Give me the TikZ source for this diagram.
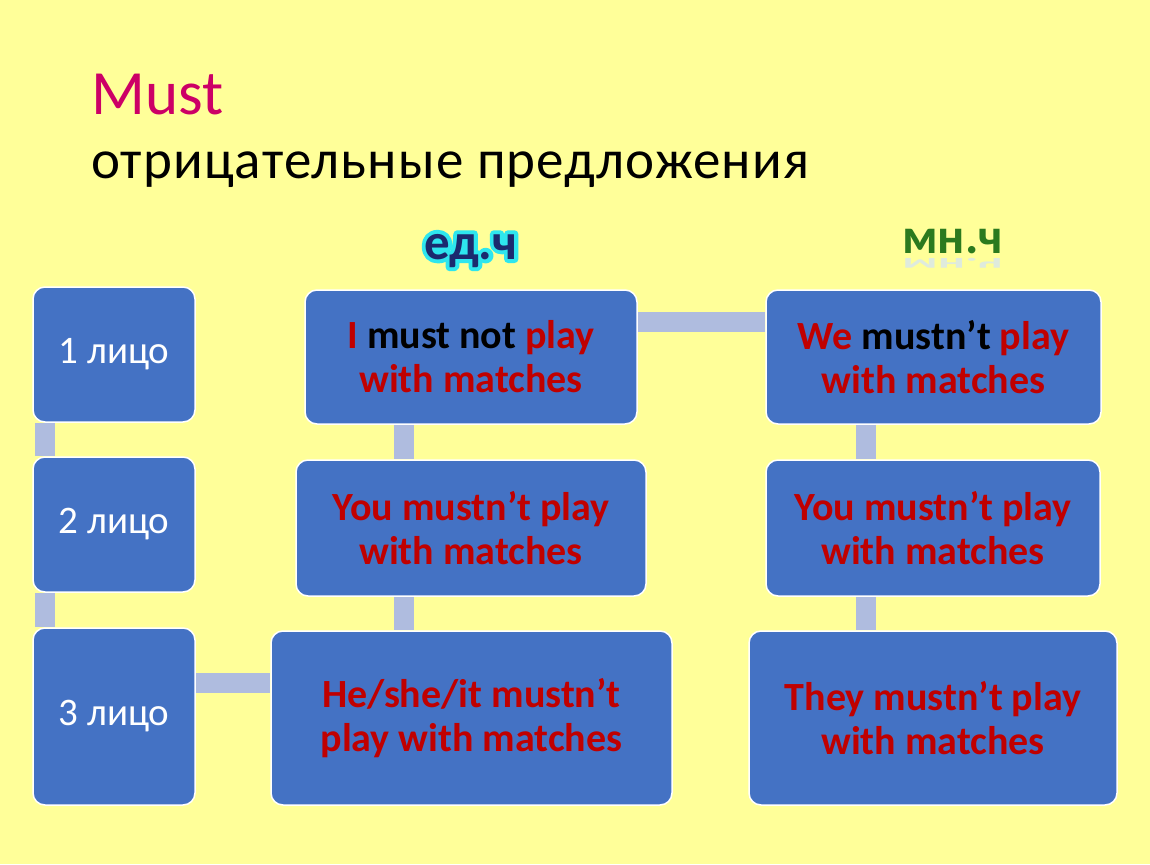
\documentclass[tikz,border=0pt]{standalone}
\usepackage{fontspec}
\setmainfont{Carlito}
\newfontfamily\subfont[LetterSpace=2]{Carlito}
\usetikzlibrary{calc}
\definecolor{bg}{HTML}{FFFF99}
\definecolor{boxblue}{HTML}{4472C4}
\definecolor{connc}{HTML}{AFBCDF}
\definecolor{redt}{HTML}{C00000}
\definecolor{magt}{HTML}{CC0066}
\definecolor{navy}{HTML}{1B2A6E}
\definecolor{glow}{HTML}{2EE6EE}
\definecolor{greent}{HTML}{2B7A1E}
\pgfdeclarelayer{bglayer}
\pgfdeclarelayer{connlayer}
\pgfsetlayers{bglayer,connlayer,main}
\tikzset{
  box/.style={draw=white, line width=1.5pt, fill=boxblue, rounded corners=12pt, inner sep=0pt, align=center},
  person/.style={box, text=white, font=\fontsize{39}{44}\selectfont},
  sent/.style={box, text=redt, font=\fontsize{40}{44}\selectfont\bfseries},
  conn/.style={connc, line width=20pt},
  label/.style={anchor=base west, inner sep=0pt},
}
\begin{document}
\begin{tikzpicture}[x=1pt,y=-1pt]
\begin{pgfonlayer}{bglayer}
\fill[bg] (0,0) rectangle (1150,864);
\end{pgfonlayer}
\useasboundingbox (0,0) rectangle (1150,864);
% titles
\node[label, text=magt, font=\fontsize{63}{70}\selectfont] (t1) at (91,115) {Must};
\node[label, text=black, font=\fontsize{55}{60}\subfont] (t2) at (91,178) {отрицательные предложения};
% ed.ch with cyan outline (stroke only) under navy text
\node[label, text=glow, font=\fontsize{51}{56}\selectfont\bfseries] (sgglow) at (424,259) {\special{pdf:code 1 Tr 8 w 1 j}ед.ч\special{pdf:code 0 Tr 1 w}};
\node[label, text=navy, font=\fontsize{51}{56}\selectfont\bfseries] (sg) at (424,259) {ед.ч};
% mn.ch with faint reflection
\node[label, text=greent!15, yscale=-0.4, font=\fontsize{50}{56}\selectfont\bfseries] (plref) at (902,258) {мн.ч};
\node[label, text=greent, font=\fontsize{50}{56}\selectfont\bfseries] (pl) at (902,253) {мн.ч};
% nodes
\node[person, minimum width=162pt, minimum height=135pt] (p1) at (114,354.5) {1 лицо};
\node[person, minimum width=162pt, minimum height=135pt] (p2) at (114,524.5) {2 лицо};
\node[person, minimum width=162pt, minimum height=177pt] (p3) at (114,716.5) {3 лицо};
\node[sent, minimum width=332pt, minimum height=134pt] (s1) at (471,357) {\textcolor{redt}{I} \textcolor{black}{must not} play\\with matches};
\node[sent, minimum width=350pt, minimum height=136pt] (s2) at (471,528) {You mustn’t play\\with matches};
\node[sent, minimum width=401pt, minimum height=174pt] (s3) at (471.5,718) {He/she/it mustn’t\\play with matches};
\node[sent, minimum width=335pt, minimum height=134pt] (q1) at (933.5,357) {We \textcolor{black}{mustn’t} play\\with matches};
\node[sent, minimum width=334pt, minimum height=136pt] (q2) at (933,528) {You mustn’t play\\with matches};
\node[sent, minimum width=368pt, minimum height=174pt] (q3) at (933,718) {They mustn’t play\\with matches};
% connectors (behind boxes)
\begin{pgfonlayer}{connlayer}
\draw[conn] ([xshift=12.5pt]p1.south west) -- ([xshift=12.5pt]p2.north west);
\draw[conn] ([xshift=12.5pt]p2.south west) -- ([xshift=12.5pt]p3.north west);
\draw[conn] ([yshift=34pt]p3.east) -- ([yshift=35.5pt]s3.west);
\draw[conn] ([xshift=-67pt]s1.south) -- ([xshift=-67pt]s2.north);
\draw[conn] ([xshift=-67pt]s2.south) -- ([xshift=-67.5pt]s3.north);
\draw[conn] ([yshift=35pt]s1.east) -- ([yshift=35pt]q1.west);
\draw[conn] ([xshift=-67.5pt]q1.south) -- ([xshift=-67pt]q2.north);
\draw[conn] ([xshift=-67pt]q2.south) -- ([xshift=-67pt]q3.north);
\end{pgfonlayer}
\end{tikzpicture}
\end{document}
